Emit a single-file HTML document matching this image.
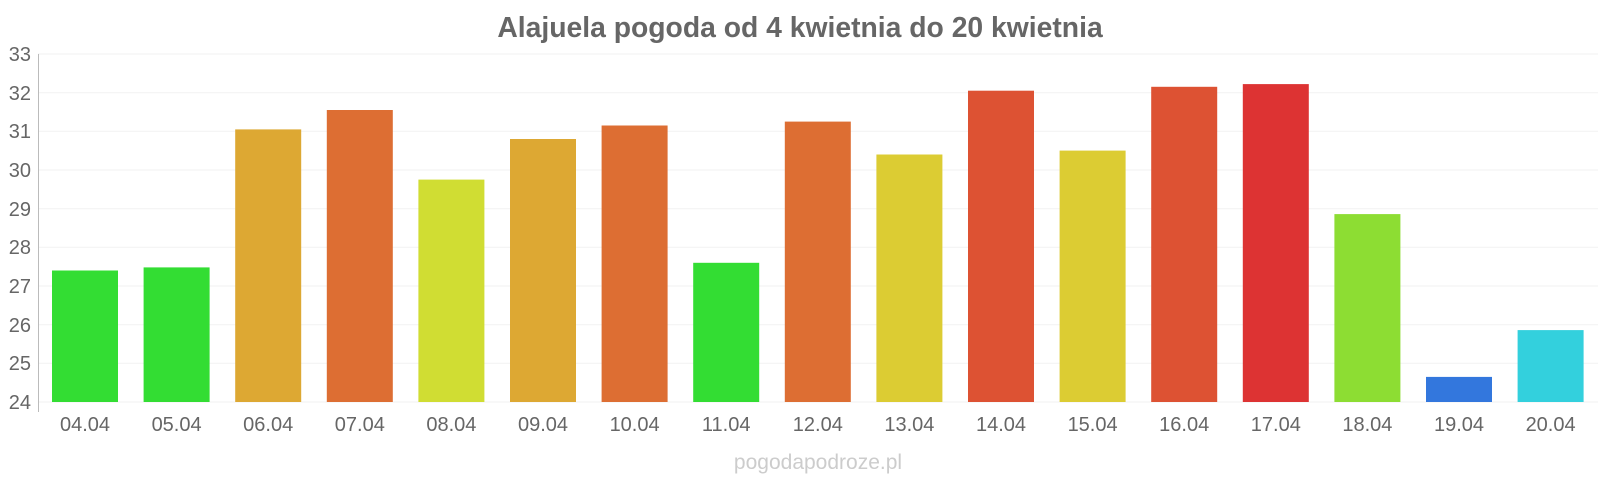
<!DOCTYPE html>
<html><head><meta charset="utf-8"><style>
html,body{margin:0;padding:0;background:#fff;width:1600px;height:480px;overflow:hidden}
</style></head><body>
<svg width="1600" height="480" xmlns="http://www.w3.org/2000/svg" font-family="Liberation Sans, sans-serif">
<text x="800" y="37" text-anchor="middle" font-size="28.3" font-weight="bold" fill="#666">Alajuela pogoda od 4 kwietnia do 20 kwietnia</text>
<g stroke="#f2f2f2" stroke-width="1">
<line x1="38" x2="1598" y1="54" y2="54"/><line x1="38" x2="1598" y1="92.7" y2="92.7"/><line x1="38" x2="1598" y1="131.3" y2="131.3"/><line x1="38" x2="1598" y1="170" y2="170"/><line x1="38" x2="1598" y1="208.7" y2="208.7"/><line x1="38" x2="1598" y1="247.3" y2="247.3"/><line x1="38" x2="1598" y1="286" y2="286"/><line x1="38" x2="1598" y1="324.7" y2="324.7"/><line x1="38" x2="1598" y1="363.3" y2="363.3"/><line x1="38" x2="1598" y1="402" y2="402"/>
</g>
<line x1="38.5" x2="38.5" y1="54" y2="412" stroke="#bbb"/>
<g font-size="20" fill="#666" text-anchor="end">
<text x="31" y="61">33</text><text x="31" y="100">32</text><text x="31" y="138">31</text><text x="31" y="177">30</text><text x="31" y="216">29</text><text x="31" y="254">28</text><text x="31" y="293">27</text><text x="31" y="332">26</text><text x="31" y="370">25</text><text x="31" y="409">24</text>
</g>
<g>
<rect x="52" y="270.5" width="66" height="131.5" fill="#33dd33"/>
<rect x="143.6" y="267.4" width="66" height="134.6" fill="#33dd33"/>
<rect x="235.2" y="129.4" width="66" height="272.6" fill="#dda833"/>
<rect x="326.8" y="110" width="66" height="292" fill="#dd6e33"/>
<rect x="418.4" y="179.6" width="66" height="222.4" fill="#d0dd33"/>
<rect x="510" y="139" width="66" height="263" fill="#dda833"/>
<rect x="601.6" y="125.5" width="66" height="276.5" fill="#dd6e33"/>
<rect x="693.2" y="262.8" width="66" height="139.2" fill="#33dd33"/>
<rect x="784.8" y="121.6" width="66" height="280.4" fill="#dd6e33"/>
<rect x="876.4" y="154.5" width="66" height="247.5" fill="#dccc33"/>
<rect x="968" y="90.7" width="66" height="311.3" fill="#dd5233"/>
<rect x="1059.6" y="150.6" width="66" height="251.4" fill="#dccc33"/>
<rect x="1151.2" y="86.8" width="66" height="315.2" fill="#dd5233"/>
<rect x="1242.8" y="84.1" width="66" height="317.9" fill="#dd3333"/>
<rect x="1334.4" y="214.1" width="66" height="187.9" fill="#8ddd33"/>
<rect x="1426" y="376.9" width="66" height="25.1" fill="#3377dd"/>
<rect x="1517.6" y="330.1" width="66" height="71.9" fill="#33d0dd"/>
</g>
<g font-size="20" fill="#666" text-anchor="middle">
<text x="85" y="431">04.04</text><text x="176.6" y="431">05.04</text><text x="268.2" y="431">06.04</text><text x="359.8" y="431">07.04</text><text x="451.4" y="431">08.04</text><text x="543" y="431">09.04</text><text x="634.6" y="431">10.04</text><text x="726.2" y="431">11.04</text><text x="817.8" y="431">12.04</text><text x="909.4" y="431">13.04</text><text x="1001" y="431">14.04</text><text x="1092.6" y="431">15.04</text><text x="1184.2" y="431">16.04</text><text x="1275.8" y="431">17.04</text><text x="1367.4" y="431">18.04</text><text x="1459" y="431">19.04</text><text x="1550.6" y="431">20.04</text>
</g>
<text x="818" y="469" text-anchor="middle" font-size="21" fill="#ccc">pogodapodroze.pl</text>
</svg>
</body></html>
